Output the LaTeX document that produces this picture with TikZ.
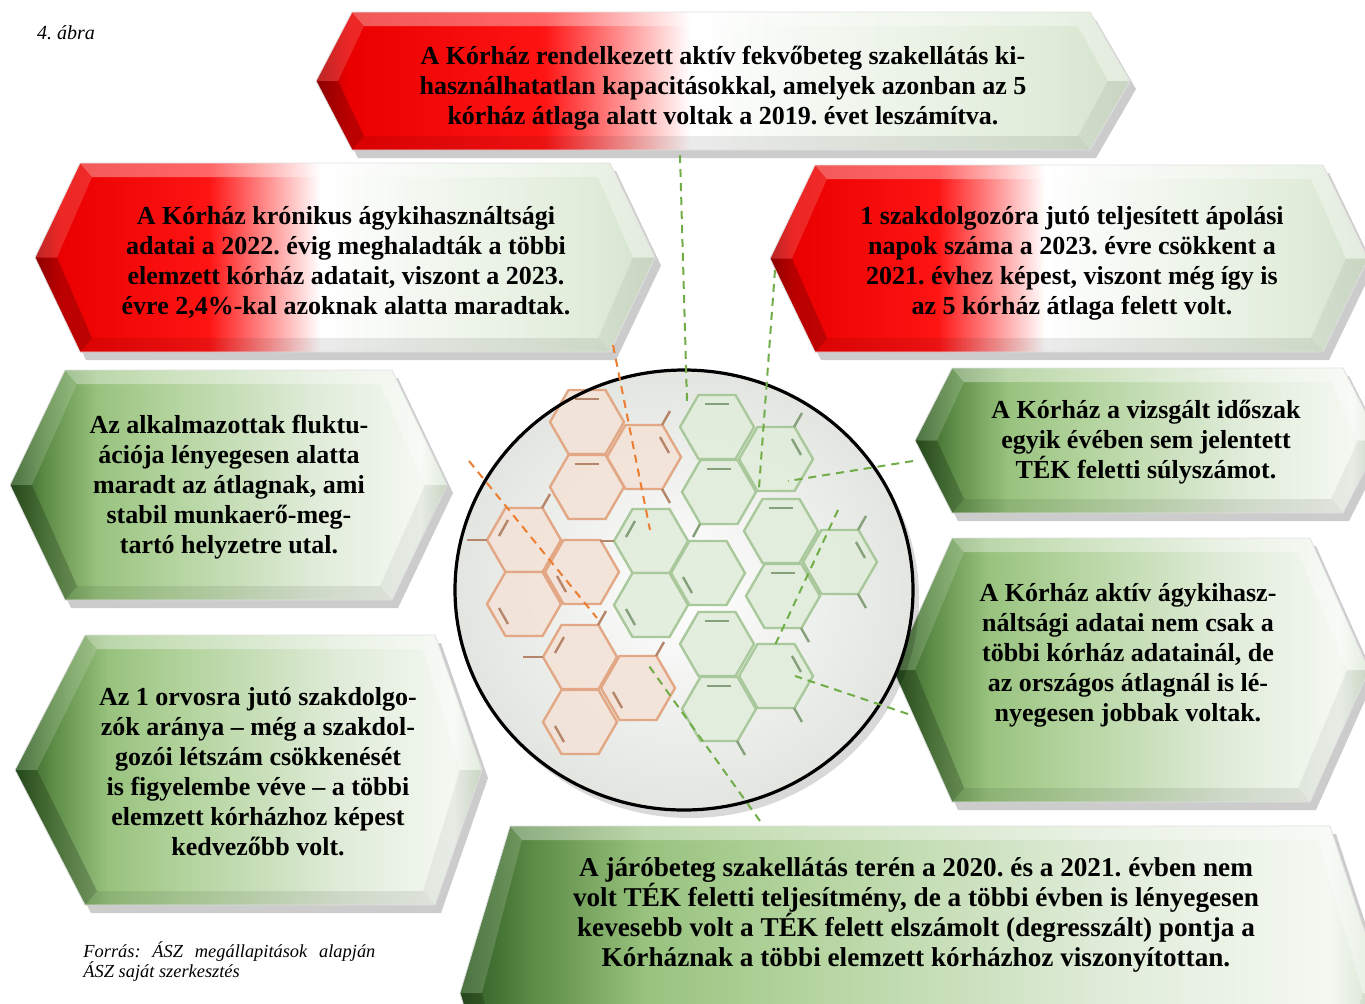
\documentclass[tikz,border=0pt]{standalone}
\usepackage{fontspec}
\setmainfont{Liberation Serif}
\usepackage{tikz}
\usepackage{xcolor}
\frenchspacing

\definecolor{rdark}{HTML}{B00000}
\definecolor{rmid}{HTML}{EA0000}
\definecolor{rbright}{HTML}{FF1414}
\definecolor{gwash}{HTML}{F4F8F2}
\definecolor{gpale}{HTML}{E0ECD9}
\definecolor{gedge}{HTML}{D3E1CC}
\definecolor{gdark}{HTML}{2E5A22}
\definecolor{gdeep}{HTML}{5C8C46}
\definecolor{gmid}{HTML}{98C27E}
\definecolor{glight}{HTML}{B2D39C}
\definecolor{lgreen}{HTML}{70AD47}
\definecolor{lorange}{HTML}{ED7D31}
\definecolor{ostroke}{HTML}{E2A885}
\definecolor{ofill}{HTML}{F3E3D8}
\definecolor{gstroke}{HTML}{A9C89B}
\definecolor{gfill}{HTML}{E2EDDC}
\definecolor{disc}{HTML}{E2E5E0}

\pgfdeclarehorizontalshading{redfade}{100bp}{color(0bp)=(rdark); color(25bp)=(rdark);
  color(27bp)=(rmid); color(39bp)=(rbright); color(48bp)=(white); color(55bp)=(gwash);
  color(70bp)=(gpale); color(75bp)=(gedge); color(100bp)=(gedge)}
\pgfdeclarehorizontalshading{greenfade}{100bp}{color(0bp)=(gdark); color(25bp)=(gdark);
  color(29bp)=(gdeep); color(35bp)=(gmid); color(43bp)=(glight); color(60bp)=(gpale);
  color(72bp)=(gwash); color(75bp)=(gedge); color(100bp)=(gedge)}

% bevelled box: left tip, left corner, right corner, right tip, top, bottom, shading
\newcommand{\hexbox}[7]{%
  \pgfmathsetmacro\ym{(#5+#6)/2}
  \fill[black,opacity=.2] (#1+6,\ym+8) -- (#2+6,#5+8) -- (#3+6,#5+8) -- (#4+6,\ym+8)
    -- (#3+6,#6+8) -- (#2+6,#6+8) -- cycle;
  \shade[shading=#7] (#1,\ym) -- (#2,#5) -- (#3,#5) -- (#4,\ym) -- (#3,#6) -- (#2,#6) -- cycle;
  \fill[white,opacity=.35] (#2,#5) -- (#3,#5) -- (#3-12,#5+14) -- (#2+12,#5+14) -- cycle;
  \fill[black,opacity=.08] (#2,#6) -- (#3,#6) -- (#3-12,#6-14) -- (#2+12,#6-14) -- cycle;
  \fill[white,opacity=.15] (#1,\ym) -- (#2,#5) -- (#2+12,#5+14) -- (#1+22,\ym) -- cycle;
  \fill[black,opacity=.2] (#1,\ym) -- (#2,#6) -- (#2+12,#6-14) -- (#1+22,\ym) -- cycle;
  \fill[white,opacity=.35] (#4,\ym) -- (#3,#5) -- (#3-12,#5+14) -- (#4-22,\ym) -- cycle;
  \fill[black,opacity=.05] (#4,\ym) -- (#3,#6) -- (#3-12,#6-14) -- (#4-22,\ym) -- cycle;
  \draw[black!12,line width=.4pt] (#1,\ym) -- (#2,#5) -- (#3,#5) -- (#4,\ym) -- (#3,#6) -- (#2,#6) -- cycle;
}

\tikzset{
  txtbox/.style={align=center,inner sep=0,font=\fontsize{13}{15}\selectfont\bfseries},
  gdash/.style={draw=lgreen,dash pattern=on 4pt off 3pt,line width=1pt},
  odash/.style={draw=lorange,dash pattern=on 4pt off 3pt,line width=1pt},
  oring/.style={draw=ostroke,fill=ofill,fill opacity=.9,line width=1.2pt},
  gring/.style={draw=gstroke,fill=gfill,fill opacity=.9,line width=1.2pt},
  obond/.style={draw=ostroke!80!black,line width=1.2pt},
  gbond/.style={draw=gstroke!80!black,line width=1.2pt}
}

\begin{document}
\begin{tikzpicture}[x=0.5pt,y=-0.5pt]
  \clip (0,0) rectangle (1365,1003);
  \fill[white] (0,0) rectangle (1365,1003);

  % boxes
  \hexbox{316}{352}{1090}{1130}{12}{150}{redfade}
  \hexbox{35}{80}{610}{655}{163}{352}{redfade}
  \hexbox{770}{815}{1323}{1368}{165}{352}{redfade}
  \hexbox{10}{65}{392}{447}{370}{600}{greenfade}
  \hexbox{15}{85}{435}{482}{635}{905}{greenfade}
  \hexbox{915}{952}{1343}{1380}{368}{513}{greenfade}
  \hexbox{893}{952}{1310}{1369}{538}{802}{greenfade}
  \hexbox{460}{510}{1330}{1385}{826}{1160}{greenfade}

  % disc
  \fill[black,opacity=.15] (690,598) ellipse [x radius=229, y radius=220];
  \shade[inner color=white,outer color=disc] (684,590) ellipse [x radius=229, y radius=220];

  % rings
  \foreach \x/\y in {587/422, 644/457, 587/487, 524/540, 582/572, 524/604, 580/657, 638/688, 580/722}
    \draw[oring,shift={(\x,\y)}] (37,0) -- (18.5,32) -- (-18.5,32) -- (-37,0) -- (-18.5,-32) -- (18.5,-32) -- cycle;
  \foreach \x/\y in {717/427, 776/459, 719/492, 651/541, 708/573, 651/605, 781/531, 840/562, 783/596, 717/644, 776/676, 719/709}
    \draw[gring,shift={(\x,\y)}] (37,0) -- (18.5,32) -- (-18.5,32) -- (-37,0) -- (-18.5,-32) -- (18.5,-32) -- cycle;
  % double bonds
  \foreach \x/\y/\a/\b/\c/\d in {587/422/-12/-23/12/-23, 644/457/16/-20/25/-4, 587/487/-12/-23/12/-23,
    524/540/-16/-20/-25/-4, 582/572/-16/20/-25/4, 524/604/-16/20/-25/4, 580/657/-16/-20/-25/-4,
    638/688/-16/20/-25/4, 580/722/-16/20/-25/4}
    \draw[obond,shift={(\x,\y)}] (\a,\b) -- (\c,\d);
  \foreach \x/\y/\a/\b/\c/\d in {717/427/-12/-23/12/-23, 776/459/16/-20/25/-4, 719/492/-12/-23/12/-23,
    651/541/-16/-20/-25/-4, 708/573/-16/20/-25/4, 651/605/-16/20/-25/4, 781/531/-12/-23/12/-23,
    840/562/16/-20/25/-4, 783/596/-12/-23/12/-23, 717/644/-12/-23/12/-23, 776/676/16/-20/25/-4,
    719/709/-12/-23/12/-23}
    \draw[gbond,shift={(\x,\y)}] (\a,\b) -- (\c,\d);
  % stubs
  \foreach \a/\b/\c/\d in {662/425/670/411, 662/489/670/503, 487/540/467/540, 542/508/550/494,
    543/657/523/657, 598/625/606/611, 656/656/664/642, 614/541/600/541}
    \draw[obond] (\a,\b) -- (\c,\d);
  \foreach \a/\b/\c/\d in {794/427/802/413, 858/530/866/516, 858/594/866/608, 801/628/809/642,
    794/708/802/722, 737/741/745/755, 700/524/693/537}
    \draw[gbond] (\a,\b) -- (\c,\d);

  \draw[line width=1.6pt] (684,590) ellipse [x radius=229, y radius=220];

  % texts
  \node[txtbox] (kap) at (723,88)
    {A Kórház rendelkezett aktív fekvőbeteg szakellátás ki-\\használhatatlan kapacitásokkal, amelyek azonban az 5\\kórház átlaga alatt voltak a 2019. évet leszámítva.};
  \node[txtbox] (kron) at (346,262)
    {A Kórház krónikus ágykihasználtsági\\adatai a 2022. évig meghaladták a többi\\elemzett kórház adatait, viszont a 2023.\\évre 2,4\%-kal azoknak alatta maradtak.};
  \node[txtbox] (apol) at (1072,263)
    {1 szakdolgozóra jutó teljesített ápolási\\napok száma a 2023. évre csökkent a\\2021. évhez képest, viszont még így is\\az 5 kórház átlaga felett volt.};
  \node[txtbox] (flukt) at (229,487)
    {Az alkalmazottak fluktu-\\ációja lényegesen alatta\\maradt az átlagnak, ami\\stabil munkaerő-meg-\\tartó helyzetre utal.};
  \node[txtbox] (orv) at (258,772)
    {Az 1 orvosra jutó szakdolgo-\\zók aránya -- még a szakdol-\\gozói létszám csökkenését\\is figyelembe véve -- a többi\\elemzett kórházhoz képest\\kedvezőbb volt.};
  \node[txtbox] (tek) at (1146,442)
    {A Kórház a vizsgált időszak\\egyik évében sem jelentett\\TÉK feletti súlyszámot.};
  \node[txtbox] (aktiv) at (1128,655)
    {A Kórház aktív ágykihasz-\\náltsági adatai nem csak a\\többi kórház adatainál, de\\az országos átlagnál is lé-\\nyegesen jobbak voltak.};
  \node[txtbox,font=\fontsize{13.6}{15}\selectfont\bfseries] (jaro) at (916,915)
    {A járóbeteg szakellátás terén a 2020. és a 2021. évben nem\\volt TÉK feletti teljesítmény, de a többi évben is lényegesen\\kevesebb volt a TÉK felett elszámolt (degresszált) pontja a\\Kórháznak a többi elemzett kórházhoz viszonyítottan.};

  \node[anchor=west,font=\fontsize{10}{12}\selectfont\itshape] (abra) at (30,33) {4. ábra};
  \node[anchor=north west,align=left,inner sep=0,font=\fontsize{9.2}{10}\selectfont\itshape] (forras) at (83,941)
    {\makebox[146pt][s]{Forrás: ÁSZ megállapitások alapján}\\ÁSZ saját szerkesztés};

  % connectors
  \coordinate (kap-s) at (680,155);  \coordinate (m1) at (687,402);
  \coordinate (apol-s) at (775,270); \coordinate (m2) at (759,488);
  \coordinate (kron-s) at (613,345); \coordinate (m3) at (650,530);
  \coordinate (flukt-s) at (469,461); \coordinate (m4) at (597,618);
  \coordinate (tek-s) at (913,461);  \coordinate (m5) at (788,481);
  \coordinate (n6) at (838,510);     \coordinate (m6) at (775,645);
  \coordinate (aktiv-s) at (908,714); \coordinate (m7) at (795,676);
  \coordinate (jaro-s) at (760,821); \coordinate (m8) at (649,666);
  \draw[gdash] (kap-s) -- (m1);
  \draw[gdash] (apol-s) -- (m2);
  \draw[odash] (kron-s) -- (m3);
  \draw[odash] (flukt-s) -- (m4);
  \draw[gdash] (tek-s) -- (m5);
  \draw[gdash] (n6) -- (m6);
  \draw[gdash] (aktiv-s) -- (m7);
  \draw[gdash] (jaro-s) -- (m8);
\end{tikzpicture}
\end{document}
